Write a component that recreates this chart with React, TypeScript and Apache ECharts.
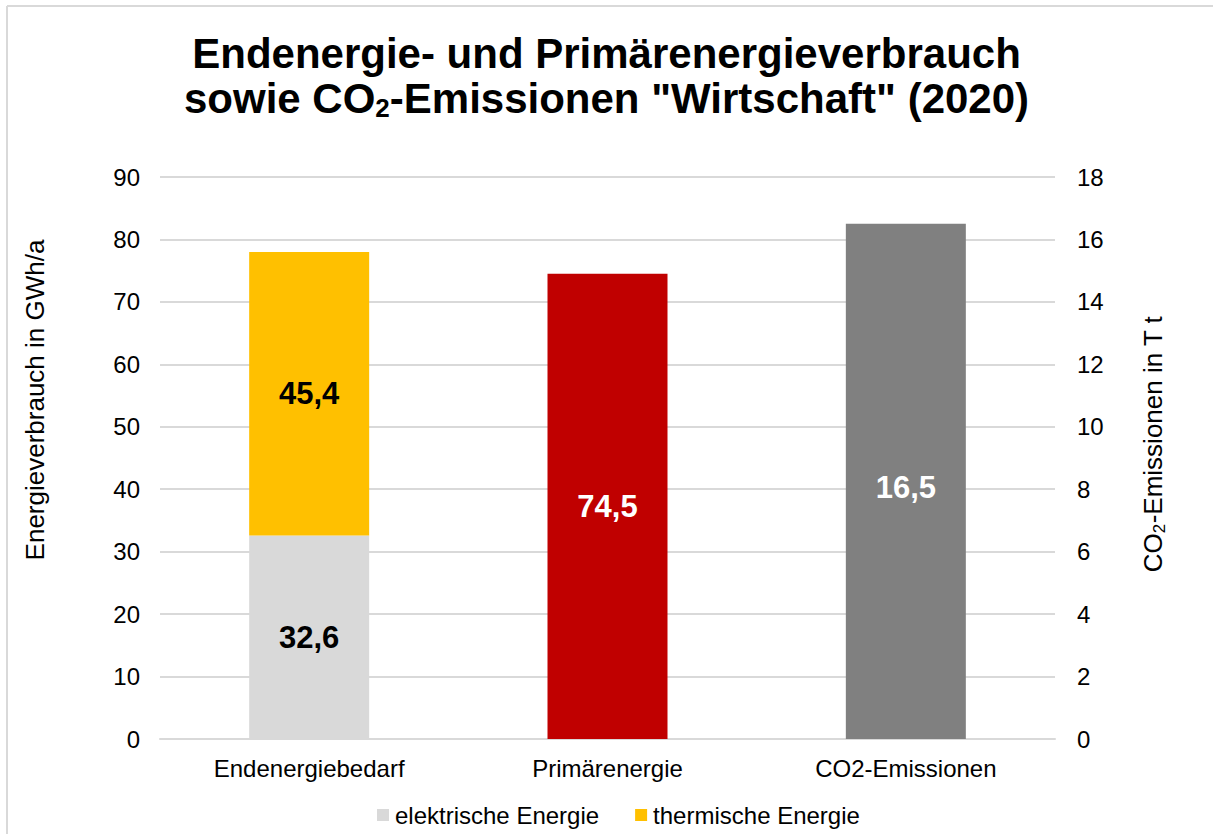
import React, { useEffect, useRef } from "react";
import * as echarts from "echarts";

const categories = ["Endenergiebedarf", "Primärenergie", "CO2-Emissionen"];
const elektrisch = [32.6, null, null];
const thermisch = [45.4, null, null];
const primaer = [null, 74.5, null];
const co2 = [null, null, 16.5];
const leftTicks = { min: 0, max: 90, interval: 10 };
const rightTicks = { min: 0, max: 18, interval: 2 };

const FONT = "'Liberation Sans', Arial, sans-serif";
const fmt = (v: number) => String(v).replace(".", ",");

export default function App() {
  const ref = useRef<HTMLDivElement>(null);
  useEffect(() => {
    if (!ref.current) return;
    const chart = echarts.init(ref.current, null, { renderer: "svg" });
    const labelBase = {
      show: true,
      position: "inside",
      fontFamily: FONT,
      fontWeight: "bold",
      fontSize: 31,
      formatter: (p: any) => fmt(p.value),
    };
    chart.setOption({
      animation: false,
      backgroundColor: "#fff",
      textStyle: { fontFamily: FONT },
      title: {
        left: "center",
        top: 26,
        text:
          "{b|Endenergie- und Primärenergieverbrauch}\n{b|sowie CO}{s|2}{b|-Emissionen \"Wirtschaft\" (2020)}",
        textStyle: {
          rich: {
            b: { fontFamily: FONT, fontSize: 42, fontWeight: "bold", color: "#000", lineHeight: 45 },
            s: { fontFamily: FONT, fontSize: 26, fontWeight: "bold", color: "#000", lineHeight: 22, verticalAlign: "bottom" },
          },
        },
      },
      legend: {
        bottom: 2,
        left: 372,
        itemWidth: 12,
        itemHeight: 12,
        itemGap: 36,
        icon: "rect",
        data: ["elektrische Energie", "thermische Energie"],
        textStyle: { fontFamily: FONT, fontSize: 24, color: "#000", padding: [0, 0, 0, 1] },
      },
      grid: { left: 160, right: 158, top: 177, bottom: 95, containLabel: false },
      xAxis: {
        type: "category",
        data: categories,
        axisLine: { lineStyle: { color: "#D9D9D9", width: 2 } },
        axisTick: { show: false },
        axisLabel: { fontFamily: FONT, fontSize: 24, color: "#000", margin: 17 },
      },
      yAxis: [
        {
          type: "value",
          ...leftTicks,
          axisLine: { show: false },
          axisTick: { show: false },
          splitLine: { lineStyle: { color: "#D9D9D9", width: 2 } },
          axisLabel: { fontFamily: FONT, fontSize: 24, color: "#000", margin: 20 },
        },
        {
          type: "value",
          ...rightTicks,
          axisLine: { show: false },
          axisTick: { show: false },
          splitLine: { show: false },
          axisLabel: { fontFamily: FONT, fontSize: 24, color: "#000", margin: 22 },
        },
      ],
      series: [
        {
          name: "elektrische Energie",
          type: "bar",
          stack: "end",
          barWidth: 120,
          barGap: "-100%",
          data: elektrisch,
          itemStyle: { color: "#D9D9D9" },
          label: { ...labelBase, color: "#000" },
        },
        {
          name: "thermische Energie",
          type: "bar",
          stack: "end",
          barWidth: 120,
          barGap: "-100%",
          data: thermisch,
          itemStyle: { color: "#FFC000" },
          label: { ...labelBase, color: "#000" },
        },
        {
          name: "Primärenergie",
          type: "bar",
          stack: "prim",
          barWidth: 120,
          barGap: "-100%",
          data: primaer,
          itemStyle: { color: "#C00000" },
          label: { ...labelBase, color: "#fff" },
        },
        {
          name: "CO2",
          type: "bar",
          stack: "co2",
          yAxisIndex: 1,
          barWidth: 120,
          barGap: "-100%",
          data: co2,
          itemStyle: { color: "#808080" },
          label: { ...labelBase, color: "#fff", offset: [0, 6] },
        },
      ],
      graphic: [
        { type: "line", shape: { x1: 7, y1: 6, x2: 1213, y2: 6 }, style: { stroke: "#D9D9D9", lineWidth: 2 } },
        { type: "line", shape: { x1: 7, y1: 6, x2: 7, y2: 834 }, style: { stroke: "#D9D9D9", lineWidth: 2 } },
        {
          type: "text",
          x: 35,
          y: 400,
          rotation: Math.PI / 2,
          style: {
            text: "Energieverbrauch in GWh/a",
            font: `26px ${FONT}`,
            fill: "#000",
            textAlign: "center",
            textVerticalAlign: "middle",
          },
        },
        {
          type: "text",
          x: 1153,
          y: 444,
          rotation: Math.PI / 2,
          style: {
            text: "{b|CO}{s|2}{b|-Emissionen in T t}",
            textAlign: "center",
            textVerticalAlign: "middle",
            rich: {
              b: { fontFamily: FONT, fontSize: 26, color: "#000", lineHeight: 30 },
              s: { fontFamily: FONT, fontSize: 17, color: "#000", lineHeight: 14, verticalAlign: "bottom" },
            },
          },
        },
      ],
    });
    return () => chart.dispose();
  }, []);
  return (
    <div
      ref={ref}
      style={{ position: "absolute", left: 0, top: 0, width: 1213, height: 834 }}
    />
  );
}
